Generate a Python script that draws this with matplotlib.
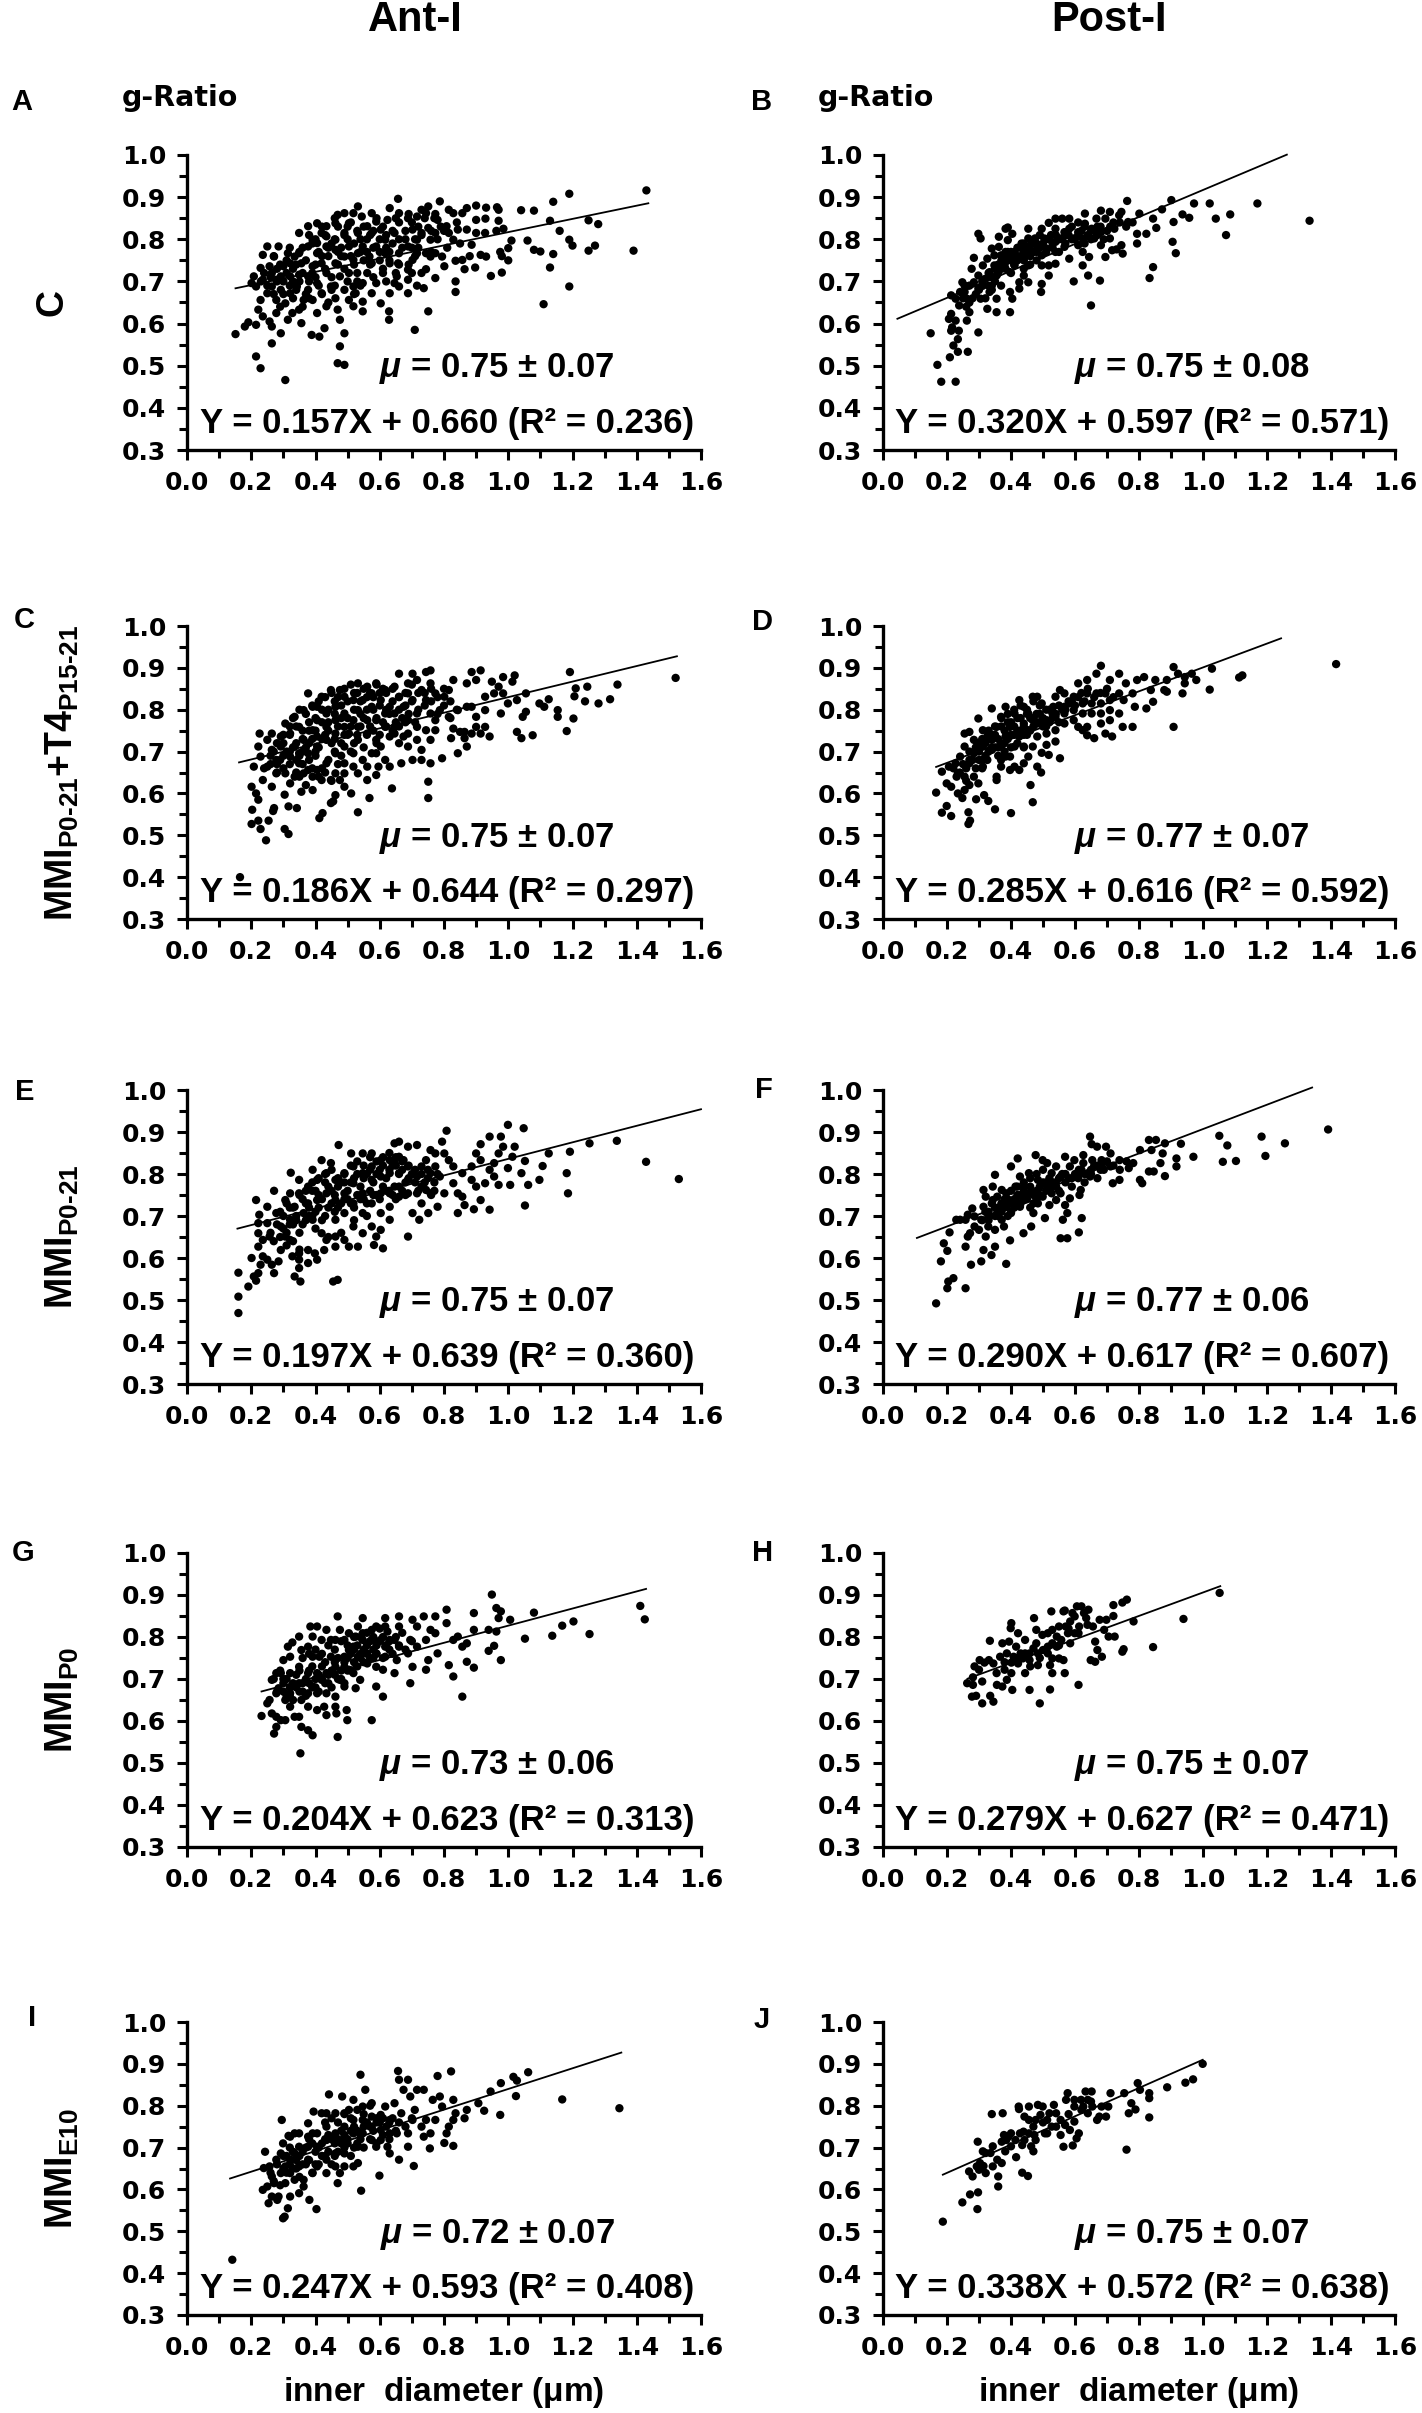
import matplotlib
matplotlib.use('Agg')
import matplotlib.pyplot as plt
from matplotlib.ticker import MultipleLocator, FormatStrFormatter
from matplotlib import font_manager
from matplotlib.ft2font import FT2Font

plt.rcParams['font.family'] = ['Liberation Sans', 'DejaVu Sans']
plt.rcParams['font.weight'] = 'bold'
plt.rcParams['mathtext.fontset'] = 'custom'
plt.rcParams['mathtext.rm'] = 'Liberation Sans'
plt.rcParams['mathtext.it'] = 'Liberation Sans:italic'
plt.rcParams['mathtext.bf'] = 'Liberation Sans:bold'

# ---------------- data ----------------
A_pts = [(1.43,0.916),(1.19,0.908),(1.14,0.889),(1.08,0.868),(1.04,0.869),(1.25,0.845),(1.28,0.836),(1.13,0.844),(1.16,0.82),(1.19,0.799),(1.20,0.785),(1.27,0.785),(1.25,0.773),(1.39,0.773),(1.14,0.765),(1.08,0.775),(1.10,0.771),(1.06,0.797),(1.01,0.797),(1.13,0.733),(1.19,0.688),(1.11,0.646),(0.98,0.721),(0.975,0.77),(1.00,0.779),(1.00,0.75),(0.98,0.76),(0.946,0.713),(0.97,0.844),(0.985,0.825),(0.963,0.82),(0.97,0.87),(0.929,0.849),(0.90,0.88),(0.871,0.874),(0.931,0.875),(0.965,0.876),(0.857,0.862),(0.90,0.815),(0.928,0.815),(0.886,0.787),(0.914,0.763),(0.931,0.759),(0.897,0.733),(0.857,0.751),(0.836,0.749),(0.836,0.675),(0.836,0.70),(0.864,0.729),(0.815,0.815),(0.808,0.831),(0.78,0.846),(0.787,0.89),(0.751,0.878),(0.815,0.87),(0.829,0.862),(0.773,0.86),(0.751,0.827),(0.709,0.585),(0.751,0.629),(0.629,0.609),(0.629,0.629),(0.603,0.648),(0.737,0.684),(0.773,0.708),(0.744,0.729),(0.801,0.736),(0.794,0.759),(0.773,0.767),(0.702,0.751),(0.716,0.69),(0.688,0.672),(0.66,0.688),(0.653,0.712),(0.688,0.728),(0.657,0.743),(0.688,0.783),(0.716,0.799),(0.73,0.815),(0.702,0.823),(0.66,0.862),(0.657,0.896),(0.631,0.874),(0.624,0.846),(0.603,0.823),(0.688,0.85),(0.716,0.854),(0.744,0.862),(0.617,0.767),(0.631,0.743),(0.61,0.72),(0.631,0.672),(0.589,0.783),(0.575,0.815),(0.589,0.842),(0.561,0.831),(0.532,0.878),(0.544,0.854),(0.518,0.862),(0.532,0.815),(0.547,0.783),(0.568,0.759),(0.561,0.72),(0.547,0.696),(0.525,0.672),(0.547,0.652),(0.547,0.629),(0.518,0.641),(0.504,0.656),(0.49,0.68),(0.49,0.577),(0.476,0.546),(0.469,0.506),(0.49,0.502),(0.476,0.609),(0.469,0.633),(0.462,0.66),(0.434,0.641),(0.405,0.625),(0.428,0.589),(0.412,0.569),(0.388,0.573),(0.356,0.601),(0.328,0.625),(0.314,0.609),(0.292,0.577),(0.264,0.553),(0.306,0.466),(0.229,0.494),(0.215,0.522),(0.151,0.575),(0.18,0.593),(0.191,0.603),(0.215,0.597),(0.236,0.617),(0.257,0.605),(0.264,0.593),(0.278,0.625),(0.222,0.633),(0.229,0.656),(0.215,0.688),(0.236,0.704),(0.229,0.732),(0.257,0.736),(0.285,0.783),(0.264,0.72),(0.292,0.68),(0.278,0.656),(0.306,0.648),(0.321,0.672),(0.342,0.688),(0.349,0.716),(0.321,0.743),(0.314,0.767),(0.349,0.767),(0.377,0.783),(0.349,0.815),(0.377,0.831),(0.405,0.838),(0.391,0.799),(0.419,0.815),(0.434,0.831),(0.462,0.838),(0.469,0.858),(0.49,0.862),(0.504,0.838),(0.49,0.815),(0.462,0.799),(0.434,0.783),(0.405,0.767),(0.419,0.743),(0.391,0.736),(0.377,0.712),(0.405,0.696),(0.434,0.72),(0.462,0.743),(0.49,0.759),(0.518,0.751),(0.504,0.72),(0.476,0.712),(0.448,0.688),(0.419,0.672),(0.391,0.656),(0.363,0.656),(0.349,0.633),(0.377,0.68),(0.462,0.775),(0.335,0.759),(0.292,0.712),(0.321,0.712),(0.264,0.688),(0.25,0.672),(0.271,0.759),(0.30,0.736),(0.278,0.704),(0.356,0.743),(0.405,0.791),(0.434,0.807),(0.504,0.783),(0.532,0.767),(0.575,0.743),(0.589,0.696),(0.575,0.672),(0.518,0.688),(0.575,0.862),(0.617,0.799),(0.646,0.815),(0.66,0.767),(0.744,0.767),(0.758,0.799),(0.773,0.815),(0.829,0.799),(0.843,0.823),(0.871,0.823),(0.758,0.759),(0.716,0.767),(0.73,0.72),(0.688,0.704),(0.646,0.696),(0.236,0.763),(0.201,0.696),(0.208,0.712),(0.25,0.783),(0.90,0.846),
(0.30,0.70),(0.32,0.69),(0.34,0.74),(0.36,0.72),(0.38,0.70),(0.40,0.74),(0.42,0.76),(0.44,0.78),(0.46,0.80),(0.48,0.78),(0.50,0.80),(0.52,0.79),(0.54,0.77),(0.56,0.80),(0.58,0.82),(0.60,0.80),(0.62,0.78),(0.64,0.82),(0.66,0.84),(0.68,0.80),(0.70,0.78),(0.72,0.83),(0.74,0.85),(0.76,0.82),(0.78,0.80),(0.33,0.66),(0.37,0.67),(0.41,0.69),(0.45,0.71),(0.49,0.73),(0.53,0.72),(0.57,0.74),(0.61,0.73),(0.65,0.72),(0.69,0.74),(0.26,0.71),(0.28,0.73),(0.31,0.75),(0.35,0.77),(0.39,0.79),(0.43,0.81),(0.47,0.83),(0.51,0.84),(0.55,0.83),(0.59,0.85),(0.27,0.67),(0.29,0.64),(0.35,0.70),(0.43,0.73),(0.51,0.76),(0.47,0.74),(0.39,0.72),(0.31,0.72),(0.23,0.70),(0.24,0.72),(0.45,0.68),(0.53,0.70),(0.60,0.77),(0.67,0.78),(0.73,0.81),(0.81,0.78),(0.85,0.79),(0.88,0.76),(0.63,0.75),(0.71,0.76),
(0.29,0.74),(0.33,0.73),(0.37,0.75),(0.41,0.77),(0.45,0.79),(0.49,0.81),(0.53,0.82),(0.57,0.81),(0.61,0.83),(0.65,0.85),(0.69,0.86),(0.73,0.87),(0.77,0.85),(0.36,0.78),(0.40,0.80),(0.44,0.76),(0.48,0.76),(0.52,0.74),(0.56,0.77),(0.60,0.75),(0.64,0.79),(0.68,0.82),(0.72,0.78),(0.76,0.77),(0.80,0.82),(0.84,0.84),(0.30,0.67),(0.34,0.68),(0.38,0.66),(0.42,0.67),(0.46,0.69),(0.50,0.70),(0.54,0.69),(0.58,0.71),(0.62,0.70),(0.66,0.74),(0.70,0.72),(0.25,0.69),(0.27,0.76),(0.32,0.78),(0.38,0.81),(0.42,0.83),(0.46,0.85),(0.50,0.83),(0.54,0.80),(0.58,0.78),(0.62,0.81),(0.66,0.80),(0.70,0.84),(0.28,0.70),(0.33,0.70),(0.40,0.71),(0.47,0.77),(0.55,0.75),(0.63,0.77),(0.71,0.80),(0.79,0.83),(0.36,0.64),(0.44,0.65),(0.52,0.67)]

B_pts = [(1.333,0.844),(1.17,0.885),(1.021,0.885),(0.972,0.885),(1.085,0.859),(1.04,0.849),(1.072,0.81),(0.936,0.859),(0.957,0.851),(0.908,0.841),(0.901,0.893),(0.872,0.871),(0.854,0.827),(0.844,0.849),(0.823,0.813),(0.794,0.813),(0.794,0.79),(0.763,0.891),(0.801,0.861),(0.766,0.841),(0.905,0.794),(0.915,0.767),(0.844,0.734),(0.833,0.708),(0.65,0.643),(0.596,0.70),(0.641,0.714),(0.678,0.702),(0.644,0.758),(0.624,0.738),(0.695,0.758),(0.716,0.774),(0.73,0.776),(0.749,0.766),(0.745,0.786),(0.681,0.786),(0.709,0.802),(0.681,0.817),(0.723,0.825),(0.738,0.857),(0.745,0.865),(0.681,0.868),(0.631,0.861),(0.631,0.837),(0.652,0.825),(0.61,0.817),(0.596,0.802),(0.624,0.802),(0.582,0.825),(0.567,0.817),(0.56,0.849),(0.582,0.849),(0.539,0.849),(0.518,0.839),(0.496,0.825),(0.539,0.825),(0.525,0.81),(0.553,0.802),(0.567,0.782),(0.539,0.77),(0.518,0.738),(0.496,0.762),(0.482,0.786),(0.454,0.802),(0.454,0.825),(0.468,0.77),(0.44,0.754),(0.454,0.738),(0.44,0.714),(0.454,0.698),(0.496,0.694),(0.494,0.675),(0.518,0.714),(0.426,0.683),(0.397,0.675),(0.404,0.659),(0.397,0.627),(0.426,0.698),(0.397,0.722),(0.411,0.738),(0.39,0.754),(0.383,0.77),(0.39,0.798),(0.383,0.825),(0.404,0.813),(0.39,0.828),(0.362,0.806),(0.362,0.782),(0.369,0.762),(0.348,0.738),(0.355,0.714),(0.369,0.69),(0.355,0.659),(0.355,0.627),(0.326,0.635),(0.333,0.675),(0.319,0.706),(0.326,0.754),(0.312,0.738),(0.298,0.714),(0.284,0.698),(0.298,0.683),(0.305,0.659),(0.298,0.813),(0.305,0.802),(0.284,0.756),(0.277,0.73),(0.27,0.69),(0.255,0.675),(0.262,0.659),(0.27,0.627),(0.262,0.607),(0.298,0.579),(0.265,0.533),(0.234,0.533),(0.234,0.563),(0.237,0.583),(0.227,0.607),(0.213,0.623),(0.206,0.611),(0.213,0.583),(0.216,0.591),(0.22,0.548),(0.209,0.52),(0.227,0.462),(0.182,0.462),(0.17,0.502),(0.149,0.577),(0.213,0.667),(0.227,0.659),(0.241,0.675),(0.238,0.643),(0.248,0.698),(0.255,0.69),(0.34,0.778),(0.348,0.762),(0.433,0.79),(0.44,0.77),(0.475,0.802),(0.504,0.802),(0.511,0.778),(0.539,0.794),(0.461,0.786),(0.411,0.77),(0.404,0.754),(0.383,0.73),(0.34,0.69),(0.312,0.69),(0.333,0.722),(0.369,0.738),(0.61,0.786),(0.624,0.77),(0.66,0.802),(0.667,0.849),(0.695,0.849),(0.709,0.865),(0.539,0.742),(0.582,0.754),(0.496,0.738),
(0.36,0.74),(0.38,0.76),(0.40,0.77),(0.42,0.78),(0.44,0.79),(0.46,0.76),(0.48,0.77),(0.50,0.79),(0.52,0.80),(0.54,0.81),(0.56,0.80),(0.58,0.81),(0.60,0.80),(0.62,0.82),(0.64,0.81),(0.66,0.82),(0.68,0.83),(0.70,0.82),(0.72,0.84),(0.74,0.84),(0.76,0.83),(0.78,0.84),(0.33,0.72),(0.35,0.70),(0.37,0.73),(0.39,0.75),(0.41,0.74),(0.43,0.76),(0.45,0.77),(0.47,0.79),(0.49,0.81),(0.51,0.77),(0.53,0.78),(0.55,0.77),(0.57,0.79),(0.59,0.83),(0.61,0.84),(0.31,0.69),(0.29,0.67),(0.27,0.65),(0.25,0.66),(0.32,0.66),(0.34,0.68),(0.40,0.72),(0.42,0.75),(0.44,0.73),(0.46,0.74),(0.48,0.75),(0.63,0.79),(0.65,0.80),(0.67,0.81),(0.69,0.80),(0.71,0.83),
(0.37,0.75),(0.39,0.77),(0.41,0.76),(0.43,0.78),(0.45,0.78),(0.47,0.77),(0.49,0.78),(0.51,0.80),(0.53,0.79),(0.55,0.80),(0.57,0.81),(0.59,0.80),(0.61,0.81),(0.63,0.83),(0.65,0.82),(0.67,0.83),(0.34,0.71),(0.36,0.72),(0.38,0.74),(0.40,0.75),(0.42,0.76),(0.44,0.75),(0.46,0.77),(0.48,0.79),(0.31,0.70),(0.33,0.69),(0.28,0.66),(0.26,0.64),(0.30,0.68),(0.35,0.73)]

C_pts = [(1.521,0.876),(1.34,0.86),(1.317,0.825),(1.281,0.815),(1.239,0.82),(1.246,0.855),(1.21,0.851),(1.206,0.832),(1.192,0.89),(1.203,0.779),(1.182,0.749),(1.154,0.799),(1.154,0.783),(1.126,0.825),(1.097,0.815),(1.112,0.807),(1.076,0.739),(1.041,0.732),(1.027,0.747),(1.055,0.795),(1.045,0.783),(1.055,0.839),(1.027,0.823),(1.013,0.867),(1.02,0.882),(0.984,0.878),(0.97,0.855),(0.949,0.867),(0.928,0.831),(0.956,0.839),(0.984,0.839),(0.977,0.791),(0.999,0.815),(0.942,0.736),(0.914,0.743),(0.928,0.759),(0.90,0.759),(0.928,0.799),(0.90,0.783),(0.886,0.807),(0.914,0.894),(0.886,0.89),(0.90,0.871),(0.871,0.863),(0.871,0.712),(0.829,0.755),(0.864,0.732),(0.85,0.747),(0.822,0.732),(0.843,0.696),(0.864,0.747),(0.886,0.743),(0.843,0.799),(0.871,0.807),(0.815,0.783),(0.815,0.847),(0.829,0.871),(0.801,0.831),(0.787,0.799),(0.794,0.684),(0.751,0.628),(0.751,0.589),(0.758,0.672),(0.73,0.68),(0.702,0.68),(0.73,0.704),(0.758,0.728),(0.744,0.751),(0.773,0.751),(0.716,0.728),(0.688,0.712),(0.688,0.743),(0.66,0.72),(0.667,0.672),(0.631,0.664),(0.638,0.612),(0.589,0.644),(0.596,0.664),(0.561,0.632),(0.568,0.589),(0.532,0.555),(0.511,0.60),(0.49,0.616),(0.462,0.596),(0.448,0.577),(0.455,0.581),(0.422,0.553),(0.412,0.541),(0.391,0.608),(0.356,0.604),(0.342,0.565),(0.316,0.569),(0.316,0.503),(0.304,0.515),(0.304,0.597),(0.271,0.565),(0.268,0.558),(0.254,0.535),(0.246,0.488),(0.229,0.515),(0.222,0.535),(0.201,0.527),(0.203,0.561),(0.222,0.585),(0.201,0.616),(0.215,0.60),(0.165,0.40),(0.236,0.632),(0.264,0.616),(0.278,0.648),(0.25,0.664),(0.229,0.688),(0.222,0.712),(0.226,0.743),(0.208,0.664),(0.264,0.704),(0.292,0.712),(0.321,0.743),(0.306,0.767),(0.335,0.783),(0.363,0.799),(0.377,0.839),(0.391,0.807),(0.419,0.831),(0.448,0.847),(0.476,0.847),(0.49,0.831),(0.462,0.807),(0.434,0.791),(0.405,0.775),(0.391,0.751),(0.363,0.728),(0.335,0.712),(0.321,0.688),(0.349,0.672),(0.377,0.696),(0.405,0.712),(0.434,0.728),(0.462,0.743),(0.49,0.759),(0.518,0.775),(0.532,0.799),(0.547,0.823),(0.532,0.863),(0.561,0.855),(0.589,0.863),(0.575,0.839),(0.603,0.823),(0.617,0.847),(0.646,0.855),(0.66,0.886),(0.702,0.886),(0.688,0.863),(0.716,0.871),(0.744,0.89),(0.758,0.894),(0.73,0.847),(0.758,0.863),(0.773,0.839),(0.744,0.823),(0.702,0.823),(0.674,0.807),(0.646,0.791),(0.617,0.791),(0.589,0.775),(0.561,0.743),(0.532,0.728),(0.518,0.696),(0.49,0.712),(0.462,0.696),(0.434,0.672),(0.405,0.656),(0.419,0.632),(0.391,0.64),(0.363,0.648),(0.335,0.64),(0.306,0.648),(0.321,0.624),(0.49,0.648),(0.518,0.664),(0.547,0.68),(0.575,0.696),(0.603,0.712),(0.631,0.736),(0.646,0.759),(0.688,0.775),(0.716,0.759),(0.589,0.728),(0.617,0.759),(0.575,0.807),(0.518,0.823),(0.49,0.791),(0.405,0.807),(0.349,0.759),(0.292,0.736),(0.264,0.743),(0.25,0.728),(0.278,0.68),(0.349,0.696),(0.405,0.736),(0.434,0.759),(0.462,0.775),(0.504,0.743),(0.532,0.759),(0.561,0.775),(0.631,0.807),(0.66,0.831),(0.688,0.839),(0.716,0.791),(0.758,0.791),(0.773,0.775),(0.646,0.743),(0.674,0.736),(0.617,0.68),(0.589,0.696),(0.561,0.664),(0.532,0.648),(0.49,0.672),(0.462,0.648),(0.448,0.632),(0.476,0.632),(0.377,0.656),
(0.30,0.72),(0.32,0.74),(0.34,0.76),(0.36,0.73),(0.38,0.75),(0.40,0.78),(0.42,0.80),(0.44,0.77),(0.46,0.79),(0.48,0.81),(0.50,0.78),(0.52,0.80),(0.54,0.82),(0.56,0.80),(0.58,0.83),(0.60,0.81),(0.62,0.84),(0.64,0.82),(0.66,0.80),(0.68,0.84),(0.70,0.82),(0.72,0.80),(0.74,0.84),(0.76,0.82),(0.78,0.79),(0.80,0.81),(0.82,0.78),(0.84,0.80),(0.27,0.70),(0.29,0.68),(0.31,0.70),(0.33,0.71),(0.35,0.69),(0.37,0.71),(0.39,0.73),(0.41,0.71),(0.43,0.74),(0.45,0.72),(0.47,0.76),(0.49,0.74),(0.51,0.76),(0.53,0.74),(0.55,0.78),(0.57,0.76),(0.59,0.78),(0.61,0.77),(0.63,0.79),(0.65,0.77),(0.67,0.78),(0.69,0.79),(0.71,0.77),(0.24,0.66),(0.26,0.67),(0.28,0.65),(0.30,0.66),(0.32,0.67),(0.34,0.65),(0.36,0.67),(0.38,0.68),(0.40,0.69),(0.42,0.66),(0.44,0.68),(0.46,0.70),(0.48,0.69),(0.33,0.78),(0.35,0.80),(0.37,0.79),(0.39,0.81),(0.41,0.82),(0.43,0.83),(0.45,0.84),(0.47,0.83),(0.49,0.85),(0.51,0.86),(0.53,0.84),(0.55,0.85),(0.57,0.84),(0.59,0.86),(0.61,0.85),
(0.28,0.72),(0.30,0.74),(0.32,0.76),(0.34,0.72),(0.36,0.75),(0.38,0.77),(0.40,0.75),(0.42,0.77),(0.44,0.80),(0.46,0.82),(0.48,0.78),(0.50,0.82),(0.52,0.84),(0.54,0.79),(0.56,0.83),(0.58,0.80),(0.60,0.84),(0.62,0.80),(0.64,0.85),(0.66,0.83),(0.68,0.81),(0.70,0.86),(0.72,0.84),(0.74,0.81),(0.76,0.85),(0.78,0.83),(0.80,0.85),(0.82,0.82),(0.26,0.69),(0.28,0.67),(0.30,0.69),(0.32,0.70),(0.34,0.68),(0.36,0.70),(0.38,0.72),(0.40,0.70),(0.42,0.73),(0.44,0.75),(0.46,0.73),(0.48,0.72),(0.50,0.74),(0.52,0.72),(0.54,0.76),(0.56,0.74),(0.58,0.75),(0.60,0.74),(0.62,0.76),(0.64,0.75),(0.66,0.76),(0.68,0.77),(0.35,0.64),(0.39,0.66),(0.43,0.65),(0.47,0.67),(0.51,0.70),(0.55,0.71),(0.59,0.72),(0.37,0.62),(0.41,0.64),(0.45,0.63)]

D_pts = [(1.416,0.909),(1.123,0.882),(1.113,0.877),(1.028,0.898),(1.021,0.848),(0.979,0.871),(0.965,0.886),(0.943,0.878),(0.943,0.863),(0.936,0.839),(0.908,0.902),(0.922,0.886),(0.908,0.759),(0.887,0.871),(0.879,0.847),(0.887,0.843),(0.851,0.871),(0.844,0.819),(0.823,0.803),(0.837,0.847),(0.816,0.878),(0.794,0.871),(0.78,0.839),(0.787,0.807),(0.78,0.759),(0.749,0.759),(0.716,0.736),(0.695,0.743),(0.709,0.775),(0.738,0.791),(0.752,0.823),(0.738,0.886),(0.759,0.863),(0.709,0.871),(0.681,0.905),(0.667,0.886),(0.638,0.871),(0.61,0.863),(0.638,0.839),(0.667,0.839),(0.695,0.839),(0.652,0.791),(0.66,0.732),(0.638,0.739),(0.624,0.751),(0.61,0.759),(0.638,0.759),(0.681,0.767),(0.624,0.791),(0.596,0.799),(0.582,0.815),(0.596,0.831),(0.567,0.839),(0.553,0.847),(0.539,0.831),(0.553,0.684),(0.539,0.724),(0.511,0.716),(0.518,0.692),(0.496,0.697),(0.494,0.65),(0.482,0.664),(0.461,0.62),(0.468,0.579),(0.44,0.672),(0.454,0.688),(0.44,0.712),(0.468,0.712),(0.482,0.736),(0.511,0.743),(0.539,0.751),(0.567,0.767),(0.567,0.791),(0.539,0.783),(0.511,0.775),(0.482,0.767),(0.454,0.751),(0.426,0.736),(0.411,0.712),(0.397,0.688),(0.411,0.664),(0.426,0.656),(0.397,0.656),(0.369,0.664),(0.355,0.64),(0.355,0.632),(0.35,0.562),(0.40,0.553),(0.329,0.582),(0.316,0.596),(0.291,0.586),(0.272,0.535),(0.267,0.555),(0.267,0.527),(0.213,0.546),(0.184,0.554),(0.199,0.57),(0.166,0.602),(0.199,0.624),(0.184,0.652),(0.206,0.664),(0.213,0.616),(0.234,0.60),(0.248,0.589),(0.255,0.608),(0.27,0.62),(0.298,0.624),(0.284,0.64),(0.255,0.64),(0.234,0.648),(0.227,0.672),(0.241,0.688),(0.255,0.712),(0.255,0.743),(0.27,0.747),(0.27,0.672),(0.284,0.696),(0.298,0.72),(0.298,0.779),(0.312,0.751),(0.312,0.664),(0.326,0.68),(0.34,0.704),(0.34,0.728),(0.34,0.803),(0.355,0.759),(0.369,0.783),(0.383,0.807),(0.369,0.712),(0.383,0.736),(0.397,0.759),(0.411,0.791),(0.44,0.807),(0.426,0.823),(0.468,0.831),(0.482,0.831),(0.496,0.815),(0.454,0.791),(0.468,0.775),(0.44,0.767),(0.383,0.688),(0.369,0.68),(0.312,0.712),(0.326,0.736),(0.284,0.728),(0.596,0.775),(0.624,0.815),(0.652,0.815),(0.681,0.815),(0.709,0.823),(0.738,0.839),(0.709,0.799),(0.681,0.791),(0.532,0.807),(0.567,0.807),
(0.30,0.70),(0.32,0.72),(0.34,0.74),(0.36,0.73),(0.38,0.75),(0.40,0.77),(0.42,0.78),(0.44,0.76),(0.46,0.78),(0.48,0.79),(0.50,0.78),(0.52,0.80),(0.54,0.79),(0.56,0.80),(0.58,0.82),(0.60,0.81),(0.62,0.84),(0.64,0.85),(0.66,0.83),(0.68,0.84),(0.70,0.85),(0.72,0.83),(0.28,0.68),(0.26,0.66),(0.24,0.65),(0.22,0.66),(0.27,0.70),(0.31,0.68),(0.33,0.70),(0.35,0.71),(0.37,0.72),(0.39,0.73),(0.41,0.74),(0.43,0.75),(0.45,0.74),(0.47,0.76),(0.49,0.77),(0.51,0.76),(0.53,0.78),(0.55,0.77),(0.35,0.76),(0.37,0.78),(0.39,0.79),(0.41,0.80),(0.43,0.81),(0.45,0.80),(0.47,0.82),(0.49,0.81),(0.36,0.69),(0.38,0.70),(0.40,0.71),(0.42,0.72),(0.44,0.71),
(0.29,0.71),(0.31,0.73),(0.33,0.75),(0.35,0.74),(0.37,0.76),(0.39,0.77),(0.41,0.76),(0.43,0.78),(0.45,0.79),(0.47,0.78),(0.49,0.79),(0.51,0.80),(0.53,0.79),(0.55,0.81),(0.57,0.80),(0.59,0.82),(0.61,0.83),(0.63,0.82),(0.30,0.68),(0.32,0.69),(0.34,0.71),(0.36,0.71),(0.38,0.72),(0.40,0.74),(0.42,0.75),(0.44,0.74),(0.46,0.75),(0.48,0.77),(0.50,0.76),(0.52,0.77),(0.25,0.67),(0.27,0.68),(0.29,0.66),(0.23,0.64),(0.26,0.63),(0.31,0.66)]

E_pts = [(1.531,0.788),(1.429,0.829),(1.338,0.879),(1.253,0.873),(1.192,0.853),(1.182,0.802),(1.186,0.754),(1.126,0.849),(1.107,0.819),(1.097,0.786),(1.048,0.909),(1.052,0.831),(1.062,0.774),(1.052,0.725),(1.041,0.802),(1.02,0.865),(1.013,0.841),(0.999,0.917),(0.977,0.889),(0.984,0.865),(0.97,0.849),(0.942,0.889),(0.914,0.871),(0.90,0.849),(0.999,0.814),(1.006,0.774),(0.97,0.774),(0.956,0.794),(0.942,0.81),(0.928,0.778),(0.942,0.715),(0.914,0.738),(0.893,0.716),(0.90,0.77),(0.886,0.786),(0.857,0.802),(0.864,0.726),(0.857,0.746),(0.843,0.754),(0.829,0.778),(0.829,0.818),(0.815,0.833),(0.808,0.903),(0.794,0.877),(0.801,0.849),(0.773,0.849),(0.773,0.818),(0.787,0.794),(0.801,0.754),(0.78,0.722),(0.751,0.707),(0.723,0.691),(0.688,0.651),(0.688,0.754),(0.716,0.754),(0.73,0.73),(0.744,0.762),(0.716,0.794),(0.73,0.818),(0.744,0.833),(0.758,0.857),(0.716,0.869),(0.688,0.865),(0.66,0.877),(0.646,0.873),(0.66,0.841),(0.688,0.818),(0.66,0.802),(0.646,0.77),(0.66,0.746),(0.631,0.754),(0.631,0.722),(0.631,0.691),(0.603,0.667),(0.61,0.623),(0.582,0.631),(0.589,0.651),(0.575,0.675),(0.547,0.659),(0.532,0.627),(0.504,0.627),(0.49,0.643),(0.462,0.651),(0.462,0.627),(0.469,0.548),(0.455,0.544),(0.427,0.619),(0.434,0.643),(0.419,0.659),(0.398,0.611),(0.405,0.596),(0.377,0.588),(0.377,0.619),(0.349,0.611),(0.349,0.596),(0.353,0.544),(0.335,0.556),(0.349,0.576),(0.328,0.604),(0.321,0.643),(0.292,0.619),(0.285,0.592),(0.271,0.564),(0.264,0.584),(0.25,0.596),(0.236,0.604),(0.229,0.584),(0.222,0.564),(0.215,0.546),(0.191,0.532),(0.208,0.556),(0.201,0.60),(0.16,0.565),(0.16,0.508),(0.16,0.469),(0.222,0.627),(0.236,0.643),(0.222,0.659),(0.222,0.683),(0.225,0.703),(0.215,0.738),(0.25,0.722),(0.25,0.683),(0.257,0.651),(0.271,0.76),(0.278,0.707),(0.292,0.675),(0.306,0.651),(0.306,0.738),(0.321,0.691),(0.323,0.803),(0.321,0.754),(0.335,0.722),(0.349,0.754),(0.349,0.786),(0.363,0.707),(0.377,0.73),(0.377,0.77),(0.391,0.81),(0.405,0.786),(0.405,0.738),(0.391,0.691),(0.419,0.833),(0.434,0.802),(0.434,0.754),(0.448,0.826),(0.462,0.786),(0.462,0.738),(0.462,0.691),(0.472,0.869),(0.49,0.802),(0.49,0.754),(0.49,0.707),(0.511,0.849),(0.518,0.818),(0.518,0.778),(0.518,0.73),(0.518,0.675),(0.547,0.849),(0.547,0.802),(0.547,0.754),(0.547,0.707),(0.575,0.849),(0.575,0.818),(0.575,0.786),(0.575,0.73),(0.603,0.833),(0.603,0.794),(0.603,0.754),(0.603,0.707),(0.631,0.833),(0.631,0.802),(0.646,0.826),(0.674,0.833),(0.688,0.786),(0.702,0.707),(0.758,0.802),(0.758,0.754),(0.843,0.707),(0.886,0.818),(0.914,0.833),(0.956,0.826),
(0.30,0.70),(0.32,0.72),(0.34,0.70),(0.36,0.74),(0.38,0.72),(0.40,0.76),(0.42,0.74),(0.44,0.77),(0.46,0.75),(0.48,0.78),(0.50,0.76),(0.52,0.79),(0.54,0.77),(0.56,0.80),(0.58,0.78),(0.60,0.81),(0.62,0.79),(0.64,0.82),(0.66,0.80),(0.68,0.78),(0.70,0.80),(0.72,0.76),(0.74,0.78),(0.76,0.75),(0.78,0.80),(0.28,0.68),(0.26,0.66),(0.31,0.66),(0.33,0.68),(0.35,0.66),(0.37,0.69),(0.39,0.70),(0.41,0.72),(0.43,0.70),(0.45,0.73),(0.47,0.72),(0.49,0.74),(0.51,0.73),(0.53,0.75),(0.55,0.74),(0.57,0.76),(0.59,0.75),(0.61,0.77),(0.63,0.76),(0.65,0.74),(0.67,0.76),(0.37,0.76),(0.39,0.78),(0.41,0.79),(0.43,0.80),(0.45,0.81),(0.47,0.79),(0.49,0.80),(0.51,0.82),(0.53,0.83),(0.55,0.82),(0.57,0.84),(0.59,0.83),(0.61,0.84),(0.63,0.85),(0.65,0.84),(0.67,0.83),(0.69,0.82),(0.71,0.81),(0.73,0.80),(0.75,0.81),(0.77,0.78),
(0.29,0.71),(0.31,0.73),(0.33,0.72),(0.35,0.75),(0.37,0.73),(0.39,0.76),(0.41,0.75),(0.43,0.78),(0.45,0.76),(0.47,0.77),(0.49,0.78),(0.51,0.78),(0.53,0.80),(0.55,0.79),(0.57,0.81),(0.59,0.80),(0.61,0.82),(0.63,0.81),(0.65,0.82),(0.67,0.81),(0.69,0.79),(0.71,0.78),(0.73,0.77),(0.75,0.79),(0.77,0.76),(0.30,0.67),(0.32,0.68),(0.34,0.69),(0.36,0.68),(0.38,0.70),(0.40,0.71),(0.42,0.69),(0.44,0.72),(0.46,0.71),(0.48,0.73),(0.50,0.74),(0.52,0.72),(0.54,0.74),(0.56,0.73),(0.58,0.75),(0.60,0.74),(0.62,0.76),(0.64,0.75),(0.66,0.77),(0.68,0.75),(0.27,0.64),(0.29,0.65),(0.31,0.63),(0.33,0.64),(0.35,0.62),(0.40,0.67),(0.44,0.65),(0.48,0.66),(0.52,0.69),(0.56,0.70)]

F_pts = [(1.391,0.906),(1.256,0.873),(1.183,0.889),(1.195,0.843),(1.103,0.831),(1.062,0.829),(1.076,0.868),(1.051,0.891),(0.97,0.841),(0.931,0.872),(0.917,0.837),(0.917,0.818),(0.881,0.795),(0.881,0.873),(0.867,0.826),(0.874,0.849),(0.853,0.881),(0.831,0.881),(0.839,0.857),(0.846,0.806),(0.831,0.806),(0.803,0.786),(0.81,0.778),(0.803,0.857),(0.782,0.826),(0.768,0.814),(0.761,0.83),(0.739,0.786),(0.718,0.778),(0.739,0.833),(0.711,0.849),(0.697,0.865),(0.669,0.865),(0.647,0.889),(0.652,0.871),(0.654,0.833),(0.647,0.794),(0.626,0.845),(0.626,0.826),(0.598,0.833),(0.584,0.818),(0.612,0.81),(0.618,0.762),(0.614,0.75),(0.621,0.695),(0.612,0.661),(0.576,0.647),(0.555,0.647),(0.562,0.691),(0.576,0.707),(0.569,0.726),(0.584,0.742),(0.555,0.754),(0.541,0.77),(0.555,0.794),(0.527,0.802),(0.513,0.826),(0.499,0.833),(0.513,0.77),(0.52,0.726),(0.499,0.746),(0.506,0.695),(0.484,0.73),(0.47,0.754),(0.47,0.707),(0.477,0.845),(0.456,0.802),(0.442,0.77),(0.442,0.738),(0.463,0.675),(0.439,0.659),(0.421,0.837),(0.428,0.794),(0.414,0.77),(0.414,0.738),(0.40,0.707),(0.385,0.754),(0.385,0.722),(0.378,0.675),(0.397,0.642),(0.385,0.586),(0.371,0.691),(0.371,0.722),(0.357,0.746),(0.35,0.798),(0.343,0.77),(0.343,0.738),(0.357,0.707),(0.35,0.667),(0.35,0.627),(0.339,0.607),(0.314,0.619),(0.321,0.651),(0.329,0.675),(0.329,0.699),(0.321,0.746),(0.314,0.722),(0.307,0.691),(0.30,0.667),(0.307,0.592),(0.286,0.675),(0.286,0.699),(0.279,0.718),(0.272,0.659),(0.265,0.651),(0.258,0.691),(0.265,0.703),(0.241,0.691),(0.229,0.691),(0.258,0.627),(0.275,0.584),(0.258,0.528),(0.22,0.552),(0.204,0.544),(0.201,0.528),(0.181,0.592),(0.201,0.617),(0.19,0.635),(0.208,0.661),(0.166,0.492),(0.314,0.762),(0.371,0.762),(0.40,0.818),(0.484,0.786),(0.541,0.818),(0.598,0.794),(0.64,0.802),(0.683,0.818),(0.711,0.818),(0.683,0.833),(0.569,0.841),(0.456,0.754),(0.428,0.722),(0.541,0.738),(0.527,0.754),
(0.36,0.72),(0.38,0.74),(0.40,0.73),(0.42,0.75),(0.44,0.76),(0.46,0.77),(0.48,0.76),(0.50,0.78),(0.52,0.79),(0.54,0.78),(0.56,0.80),(0.58,0.79),(0.60,0.80),(0.62,0.81),(0.64,0.80),(0.66,0.82),(0.68,0.81),(0.70,0.83),(0.72,0.82),(0.74,0.81),(0.34,0.73),(0.32,0.71),(0.33,0.69),(0.35,0.70),(0.37,0.71),(0.39,0.70),(0.41,0.72),(0.43,0.73),(0.45,0.74),(0.47,0.73),(0.49,0.75),(0.51,0.76),(0.53,0.77),(0.55,0.76),(0.57,0.78),(0.59,0.77),(0.61,0.79),(0.63,0.78),(0.65,0.80),(0.67,0.79),(0.40,0.76),(0.42,0.77),(0.44,0.78),(0.46,0.79),(0.48,0.80),(0.50,0.81),
(0.37,0.73),(0.39,0.74),(0.41,0.74),(0.43,0.75),(0.45,0.75),(0.47,0.75),(0.49,0.77),(0.51,0.78),(0.53,0.78),(0.55,0.79),(0.57,0.80),(0.59,0.79),(0.61,0.80),(0.63,0.80),(0.65,0.81),(0.67,0.82),(0.69,0.81),(0.35,0.72),(0.33,0.71),(0.31,0.69),(0.36,0.70),(0.38,0.72),(0.40,0.71),(0.42,0.73),(0.44,0.74),(0.46,0.72),(0.48,0.74)]

G_pts = [(1.411,0.874),(1.425,0.842),(1.253,0.807),(1.203,0.837),(1.168,0.827),(1.137,0.803),(1.08,0.858),(1.052,0.796),(1.006,0.841),(0.977,0.861),(0.97,0.845),(0.949,0.901),(0.963,0.869),(0.963,0.813),(0.956,0.779),(0.977,0.745),(0.939,0.767),(0.939,0.817),(0.893,0.857),(0.893,0.817),(0.893,0.727),(0.871,0.741),(0.871,0.785),(0.857,0.658),(0.829,0.706),(0.815,0.733),(0.829,0.793),(0.843,0.801),(0.857,0.777),(0.808,0.833),(0.808,0.865),(0.773,0.849),(0.773,0.809),(0.78,0.761),(0.751,0.745),(0.744,0.722),(0.737,0.849),(0.716,0.825),(0.702,0.841),(0.695,0.793),(0.702,0.729),(0.695,0.69),(0.66,0.849),(0.66,0.825),(0.646,0.793),(0.653,0.745),(0.646,0.714),(0.617,0.845),(0.624,0.813),(0.617,0.777),(0.61,0.722),(0.61,0.658),(0.575,0.602),(0.589,0.682),(0.575,0.817),(0.582,0.793),(0.589,0.761),(0.561,0.761),(0.547,0.845),(0.532,0.825),(0.525,0.801),(0.547,0.793),(0.561,0.737),(0.532,0.753),(0.539,0.698),(0.525,0.678),(0.518,0.714),(0.49,0.682),(0.497,0.626),(0.499,0.602),(0.469,0.562),(0.465,0.618),(0.462,0.634),(0.434,0.614),(0.462,0.658),(0.476,0.698),(0.49,0.729),(0.504,0.769),(0.504,0.809),(0.476,0.817),(0.469,0.849),(0.462,0.793),(0.448,0.753),(0.434,0.714),(0.434,0.666),(0.427,0.634),(0.405,0.626),(0.405,0.666),(0.405,0.714),(0.412,0.753),(0.419,0.793),(0.391,0.801),(0.384,0.825),(0.377,0.777),(0.391,0.753),(0.377,0.714),(0.377,0.666),(0.377,0.634),(0.391,0.566),(0.377,0.578),(0.356,0.586),(0.353,0.523),(0.349,0.61),(0.356,0.65),(0.349,0.69),(0.349,0.729),(0.356,0.769),(0.349,0.801),(0.328,0.787),(0.321,0.753),(0.321,0.714),(0.321,0.666),(0.321,0.634),(0.335,0.61),(0.306,0.602),(0.292,0.602),(0.306,0.65),(0.30,0.69),(0.292,0.714),(0.30,0.745),(0.278,0.714),(0.278,0.666),(0.278,0.61),(0.271,0.57),(0.278,0.586),(0.264,0.618),(0.257,0.65),(0.25,0.642),(0.232,0.612),(0.264,0.698),(0.285,0.678),(0.314,0.777),(0.405,0.825),(0.434,0.817),(0.448,0.793),(0.49,0.793),(0.518,0.777),(0.547,0.809),(0.575,0.793),(0.603,0.793),(0.631,0.793),(0.589,0.825),(0.617,0.825),(0.66,0.777),(0.688,0.761),(0.716,0.777),(0.744,0.793),(0.758,0.817),(0.589,0.729),(0.617,0.753),(0.49,0.753),(0.419,0.698),(0.391,0.682),(0.462,0.729),(0.504,0.722),
(0.30,0.70),(0.32,0.68),(0.34,0.71),(0.36,0.69),(0.38,0.72),(0.40,0.70),(0.42,0.73),(0.44,0.71),(0.46,0.74),(0.48,0.72),(0.50,0.75),(0.52,0.77),(0.54,0.76),(0.56,0.78),(0.58,0.77),(0.60,0.79),(0.62,0.78),(0.64,0.76),(0.66,0.78),(0.68,0.77),(0.70,0.79),(0.31,0.66),(0.33,0.65),(0.35,0.67),(0.37,0.66),(0.39,0.68),(0.41,0.67),(0.43,0.69),(0.45,0.68),(0.47,0.70),(0.49,0.69),(0.51,0.72),(0.53,0.73),(0.55,0.74),(0.57,0.75),(0.59,0.76),(0.61,0.75),(0.63,0.77),(0.65,0.80),(0.67,0.81),(0.36,0.75),(0.38,0.76),(0.40,0.77),(0.42,0.76),(0.44,0.78),(0.46,0.77),(0.48,0.79),(0.50,0.78),(0.52,0.80),(0.54,0.80),(0.56,0.81),(0.58,0.80),(0.60,0.82),(0.29,0.72),(0.27,0.70),(0.28,0.67),
(0.31,0.70),(0.33,0.69),(0.35,0.72),(0.37,0.70),(0.39,0.73),(0.41,0.71),(0.43,0.74),(0.45,0.72),(0.47,0.75),(0.49,0.74),(0.51,0.76),(0.53,0.78),(0.55,0.77),(0.57,0.79),(0.59,0.78),(0.61,0.80),(0.63,0.79),(0.30,0.67),(0.32,0.66),(0.34,0.68),(0.36,0.67),(0.38,0.69),(0.40,0.68),(0.42,0.70),(0.44,0.69),(0.46,0.71),(0.48,0.70),(0.50,0.72),(0.52,0.74),(0.54,0.75),(0.56,0.76),(0.58,0.75)]

H_pts = [(1.052,0.905),(0.939,0.843),(0.844,0.776),(0.783,0.837),(0.762,0.889),(0.748,0.882),(0.752,0.771),(0.748,0.765),(0.72,0.876),(0.72,0.85),(0.724,0.801),(0.705,0.801),(0.691,0.817),(0.684,0.753),(0.677,0.841),(0.663,0.789),(0.67,0.769),(0.663,0.741),(0.649,0.745),(0.642,0.865),(0.639,0.829),(0.635,0.845),(0.62,0.873),(0.606,0.873),(0.599,0.849),(0.613,0.825),(0.611,0.809),(0.611,0.686),(0.592,0.857),(0.585,0.837),(0.571,0.825),(0.578,0.809),(0.557,0.793),(0.564,0.861),(0.568,0.863),(0.55,0.825),(0.543,0.801),(0.529,0.817),(0.526,0.861),(0.564,0.745),(0.55,0.749),(0.568,0.714),(0.529,0.785),(0.529,0.749),(0.515,0.761),(0.522,0.733),(0.522,0.675),(0.529,0.714),(0.515,0.777),(0.50,0.769),(0.498,0.805),(0.479,0.817),(0.479,0.785),(0.484,0.761),(0.47,0.773),(0.49,0.642),(0.472,0.845),(0.458,0.761),(0.458,0.745),(0.458,0.674),(0.444,0.793),(0.444,0.761),(0.437,0.749),(0.43,0.761),(0.422,0.737),(0.416,0.777),(0.408,0.753),(0.401,0.739),(0.401,0.714),(0.422,0.809),(0.401,0.833),(0.399,0.821),(0.404,0.674),(0.387,0.761),(0.387,0.698),(0.394,0.789),(0.373,0.785),(0.38,0.722),(0.366,0.753),(0.356,0.686),(0.355,0.714),(0.345,0.737),(0.345,0.646),(0.334,0.791),(0.331,0.745),(0.335,0.66),(0.317,0.739),(0.31,0.694),(0.31,0.642),(0.302,0.745),(0.30,0.722),(0.291,0.66),(0.286,0.73),(0.281,0.704),(0.278,0.658),(0.281,0.686),(0.263,0.69),(0.373,0.682),(0.444,0.714),(0.484,0.733),(0.543,0.777),(0.585,0.785),(0.599,0.809),(0.628,0.857),(0.656,0.825),(0.698,0.841),(0.515,0.809),(0.46,0.73),(0.49,0.75),(0.55,0.78),(0.42,0.75),(0.38,0.74),(0.58,0.82)]

I_pts = [(1.346,0.794),(1.168,0.815),(1.062,0.88),(1.027,0.86),(1.016,0.869),(1.024,0.823),(0.977,0.854),(0.945,0.834),(0.975,0.778),(0.925,0.788),(0.907,0.806),(0.871,0.79),(0.864,0.77),(0.829,0.814),(0.822,0.882),(0.836,0.782),(0.829,0.766),(0.829,0.704),(0.815,0.75),(0.808,0.734),(0.801,0.711),(0.794,0.798),(0.787,0.822),(0.78,0.871),(0.765,0.814),(0.773,0.766),(0.758,0.734),(0.756,0.698),(0.737,0.726),(0.73,0.75),(0.737,0.838),(0.716,0.838),(0.709,0.79),(0.706,0.656),(0.702,0.766),(0.695,0.822),(0.688,0.862),(0.674,0.838),(0.667,0.782),(0.66,0.862),(0.657,0.883),(0.653,0.734),(0.66,0.671),(0.646,0.806),(0.631,0.766),(0.631,0.734),(0.624,0.702),(0.617,0.798),(0.603,0.742),(0.603,0.778),(0.599,0.633),(0.589,0.702),(0.575,0.718),(0.575,0.774),(0.575,0.806),(0.555,0.838),(0.547,0.766),(0.547,0.734),(0.54,0.874),(0.542,0.597),(0.532,0.663),(0.532,0.702),(0.518,0.655),(0.518,0.734),(0.518,0.766),(0.518,0.814),(0.504,0.79),(0.49,0.75),(0.49,0.718),(0.49,0.686),(0.483,0.822),(0.476,0.639),(0.462,0.782),(0.462,0.734),(0.462,0.686),(0.469,0.615),(0.442,0.827),(0.434,0.75),(0.434,0.718),(0.434,0.671),(0.434,0.639),(0.419,0.782),(0.405,0.702),(0.405,0.655),(0.403,0.553),(0.394,0.786),(0.391,0.734),(0.391,0.639),(0.381,0.575),(0.377,0.758),(0.377,0.702),(0.377,0.671),(0.363,0.623),(0.363,0.607),(0.349,0.734),(0.349,0.702),(0.349,0.655),(0.335,0.686),(0.335,0.623),(0.321,0.726),(0.321,0.671),(0.321,0.639),(0.316,0.728),(0.306,0.655),(0.306,0.615),(0.314,0.555),(0.304,0.535),(0.299,0.531),(0.295,0.766),(0.299,0.71),(0.292,0.686),(0.292,0.639),(0.285,0.583),(0.278,0.671),(0.271,0.615),(0.264,0.631),(0.257,0.655),(0.254,0.567),(0.25,0.607),(0.243,0.69),(0.239,0.651),(0.236,0.599),(0.264,0.583),(0.281,0.575),(0.321,0.583),(0.349,0.591),(0.141,0.432),(0.335,0.734),(0.405,0.734),(0.434,0.782),(0.49,0.782),(0.547,0.798),(0.575,0.75),(0.603,0.718),(0.631,0.686),(0.688,0.734),(0.688,0.702),(0.744,0.766),(0.377,0.726),(0.462,0.655),(0.49,0.655),
(0.30,0.68),(0.32,0.70),(0.34,0.67),(0.36,0.69),(0.38,0.72),(0.40,0.69),(0.42,0.71),(0.44,0.73),(0.46,0.71),(0.48,0.74),(0.50,0.72),(0.52,0.75),(0.54,0.73),(0.56,0.76),(0.58,0.74),(0.60,0.76),(0.62,0.75),(0.64,0.77),(0.66,0.76),(0.68,0.75),(0.70,0.77),(0.31,0.64),(0.33,0.65),(0.35,0.63),(0.37,0.66),(0.39,0.64),(0.41,0.66),(0.43,0.68),(0.45,0.66),(0.47,0.69),(0.49,0.70),(0.51,0.68),(0.53,0.71),(0.55,0.70),(0.57,0.72),(0.59,0.71),(0.61,0.73),(0.63,0.72),(0.65,0.74),(0.43,0.76),(0.45,0.77),(0.47,0.76),(0.49,0.78),(0.51,0.77),(0.53,0.79),(0.55,0.78),(0.57,0.80),(0.59,0.77),(0.28,0.66),(0.26,0.64),(0.27,0.62),(0.29,0.61),
(0.31,0.68),(0.33,0.69),(0.35,0.68),(0.37,0.70),(0.39,0.71),(0.41,0.70),(0.43,0.72),(0.45,0.72),(0.47,0.72),(0.49,0.73),(0.51,0.74),(0.53,0.74),(0.55,0.75),(0.57,0.75),(0.59,0.76),(0.61,0.77),(0.63,0.76),(0.30,0.65),(0.32,0.66),(0.34,0.65),(0.36,0.66),(0.38,0.67),(0.40,0.66),(0.42,0.68),(0.44,0.69),(0.46,0.68),(0.48,0.71),(0.50,0.71),(0.52,0.70),(0.54,0.72)]

J_pts = [(0.999,0.90),(0.969,0.863),(0.945,0.855),(0.888,0.844),(0.832,0.83),(0.832,0.818),(0.832,0.772),(0.796,0.854),(0.803,0.838),(0.789,0.791),(0.776,0.806),(0.768,0.782),(0.761,0.695),(0.754,0.83),(0.711,0.83),(0.704,0.798),(0.697,0.774),(0.683,0.798),(0.676,0.774),(0.654,0.798),(0.652,0.834),(0.633,0.834),(0.64,0.814),(0.626,0.798),(0.64,0.782),(0.619,0.814),(0.612,0.734),(0.605,0.722),(0.598,0.798),(0.598,0.762),(0.593,0.705),(0.584,0.742),(0.577,0.83),(0.572,0.814),(0.569,0.754),(0.564,0.702),(0.555,0.766),(0.555,0.73),(0.541,0.782),(0.534,0.802),(0.527,0.75),(0.52,0.782),(0.513,0.766),(0.506,0.734),(0.499,0.798),(0.492,0.778),(0.484,0.802),(0.477,0.766),(0.477,0.718),(0.473,0.73),(0.47,0.691),(0.463,0.703),(0.456,0.734),(0.442,0.774),(0.442,0.718),(0.439,0.738),(0.435,0.706),(0.435,0.64),(0.453,0.632),(0.424,0.798),(0.425,0.792),(0.428,0.734),(0.414,0.718),(0.416,0.677),(0.40,0.734),(0.40,0.703),(0.392,0.726),(0.385,0.718),(0.382,0.691),(0.378,0.73),(0.371,0.714),(0.371,0.663),(0.374,0.782),(0.357,0.671),(0.36,0.607),(0.36,0.631),(0.34,0.78),(0.343,0.655),(0.336,0.687),(0.321,0.687),(0.321,0.639),(0.314,0.656),(0.312,0.691),(0.30,0.647),(0.296,0.714),(0.303,0.663),(0.293,0.655),(0.297,0.593),(0.295,0.553),(0.272,0.588),(0.269,0.643),(0.248,0.569),(0.187,0.523),(0.28,0.631),(0.343,0.703),(0.456,0.766),(0.513,0.734),(0.541,0.75),(0.598,0.814),(0.669,0.766),(0.456,0.798),(0.62,0.79),(0.50,0.76),(0.47,0.75),(0.58,0.78),(0.65,0.81)]

panel_points = [A_pts, B_pts, C_pts, D_pts, E_pts, F_pts, G_pts, H_pts, I_pts, J_pts]
panel_letters = ['A', 'B', 'C', 'D', 'E', 'F', 'G', 'H', 'I', 'J']
slopes = [0.157, 0.320, 0.186, 0.285, 0.197, 0.290, 0.204, 0.279, 0.247, 0.338]
intercepts = [0.660, 0.597, 0.644, 0.616, 0.639, 0.617, 0.623, 0.627, 0.593, 0.572]
r_squared = [0.236, 0.571, 0.297, 0.592, 0.360, 0.607, 0.313, 0.471, 0.408, 0.638]
means = [0.75, 0.75, 0.75, 0.77, 0.75, 0.77, 0.73, 0.75, 0.72, 0.75]
sds = [0.07, 0.08, 0.07, 0.07, 0.07, 0.06, 0.06, 0.07, 0.07, 0.07]
fit_xmin = [0.151, 0.045, 0.162, 0.166, 0.157, 0.106, 0.232, 0.264, 0.134, 0.187]
fit_xmax = [1.436, 1.262, 1.525, 1.244, 1.60, 1.341, 1.429, 1.054, 1.352, 0.999]
column_titles = ['Ant-I', 'Post-I']
x_tick_values = [0.0, 0.2, 0.4, 0.6, 0.8, 1.0, 1.2, 1.4, 1.6]
y_tick_values = [0.3, 0.4, 0.5, 0.6, 0.7, 0.8, 0.9, 1.0]

# hyphen glyph for subscripts
try:
    _f = FT2Font(font_manager.findfont(font_manager.FontProperties(family='Liberation Sans', weight='bold')))
    HY = '\u2010' if _f.get_char_index(0x2010) else '\u2013'
except Exception:
    HY = '\u2013'

row_labels = [
    'C',
    'MMI$_{\\mathbf{P0' + HY + '21}}$+T4$_{\\mathbf{P15' + HY + '21}}$',
    'MMI$_{\\mathbf{P0' + HY + '21}}$',
    'MMI$_{\\mathbf{P0}}$',
    'MMI$_{\\mathbf{E10}}$',
]

# ---------------- layout ----------------
W, H = 1422, 2413
fig = plt.figure(figsize=(W / 100, H / 100), dpi=100)
col_x = [(187, 701), (883, 1395)]
row_y = [(155, 450), (626, 919), (1090, 1384), (1553, 1847), (2022, 2315)]
TICK_FONT = ['DejaVu Sans']

def fx(px):
    return px / W

def fy(py):
    return 1 - py / H

for i in range(10):
    r, c = divmod(i, 2)
    x0, x1 = col_x[c]
    y0, y1 = row_y[r]
    ax = fig.add_axes([fx(x0), fy(y1), (x1 - x0) / W, (y1 - y0) / H])
    pts = panel_points[i]
    xs = [p[0] for p in pts]
    ys = [p[1] for p in pts]
    ax.scatter(xs, ys, s=36, c='black', edgecolors='none', zorder=3)
    xl = [fit_xmin[i], fit_xmax[i]]
    yl = [slopes[i] * v + intercepts[i] for v in xl]
    ax.plot(xl, yl, color='black', lw=1.3, zorder=4, clip_on=False)
    ax.set_xlim(0, 1.6)
    ax.set_ylim(0.3, 1.0)
    ax.set_xticks(x_tick_values)
    ax.set_yticks(y_tick_values)
    ax.xaxis.set_minor_locator(MultipleLocator(0.1))
    ax.yaxis.set_minor_locator(MultipleLocator(0.05))
    ax.xaxis.set_major_formatter(FormatStrFormatter('%.1f'))
    ax.yaxis.set_major_formatter(FormatStrFormatter('%.1f'))
    for s in ['top', 'right']:
        ax.spines[s].set_visible(False)
    for s in ['left', 'bottom']:
        ax.spines[s].set_linewidth(2.4)
    ax.tick_params(which='major', direction='out', length=7, width=2.2,
                   labelsize=18, pad=8)
    ax.tick_params(which='minor', direction='out', length=5.5, width=2.2)
    for lab in ax.get_xticklabels() + ax.get_yticklabels():
        lab.set_fontweight('bold')
        lab.set_family(TICK_FONT)
    ax.text(0.965, 0.473, r'$\mu$' + ' = %.2f \u00b1 %.2f' % (means[i], sds[i]),
            ha='center', va='baseline', fontsize=25, fontweight='bold', zorder=5)
    ax.text(0.81, 0.340, 'Y = %.3fX + %.3f (R\u00b2 = %.3f)' % (slopes[i], intercepts[i], r_squared[i]),
            ha='center', va='baseline', fontsize=25, fontweight='bold', zorder=5)
    if r == 4:
        ax.set_xlabel('inner  diameter ($\\mathrm{\\mu m}$)', fontsize=24,
                      fontweight='bold', labelpad=11)

# panel letters
letter_pos = [(22, 102), (762, 102), (24, 620), (762, 622), (25, 1092), (764, 1090),
              (23, 1553), (763, 1553), (32, 2018), (762, 2020)]
for i, (lx, ly) in enumerate(letter_pos):
    fig.text(fx(lx), fy(ly), panel_letters[i], ha='center', va='center',
             fontsize=21, fontweight='bold')

# g-Ratio labels
for gx in (122, 818):
    fig.text(fx(gx), fy(106), 'g-Ratio', ha='left', va='baseline', fontsize=20.5,
             fontweight='bold', family=TICK_FONT)

# column titles
fig.text(fx(415), fy(20), column_titles[0], ha='center', va='center', fontsize=30, fontweight='bold')
fig.text(fx(1109), fy(20), column_titles[1], ha='center', va='center', fontsize=30, fontweight='bold')

# row labels
row_label_x = [52, 62, 62, 62, 62]
for r in range(5):
    yc = (row_y[r][0] + row_y[r][1]) / 2
    fig.text(fx(row_label_x[r]), fy(yc), row_labels[r], rotation=90,
             ha='center', va='center', fontsize=27, fontweight='bold')

fig.savefig('out.png', dpi=100)
